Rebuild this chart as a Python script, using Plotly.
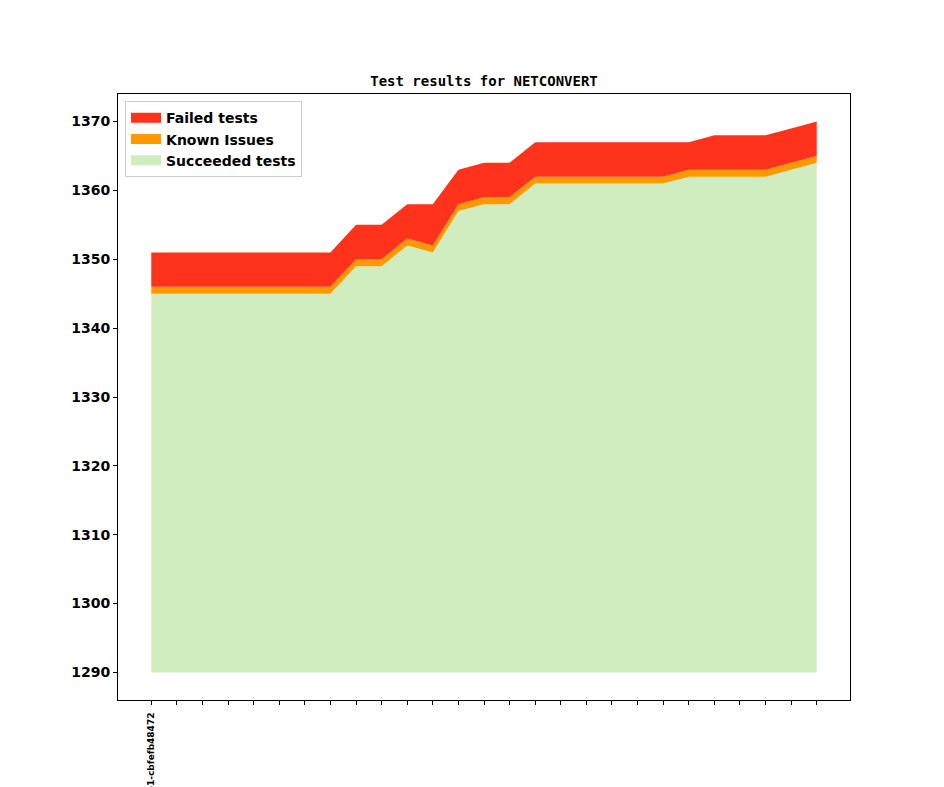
import plotly.graph_objects as go

revisions = ["v1_20_0+0651-cbfefb48472"] + [""] * 26
succeeded = [1345, 1345, 1345, 1345, 1345, 1345, 1345, 1345, 1349, 1349, 1352, 1351, 1357, 1358,
             1358, 1361, 1361, 1361, 1361, 1361, 1361, 1362, 1362, 1362, 1362, 1363, 1364]
known = [1] * 27
failed = [5, 5, 5, 5, 5, 5, 5, 5, 5, 5, 5, 6, 5, 5,
          5, 5, 5, 5, 5, 5, 5, 4, 5, 5, 5, 5, 5]
baseline = 1290
yticks = [1290, 1300, 1310, 1320, 1330, 1340, 1350, 1360, 1370]

colors = {"Failed tests": "#FF331C", "Known Issues": "#FF9900", "Succeeded tests": "#CFEDBF"}

x = list(range(len(succeeded)))
known_top = [s + k for s, k in zip(succeeded, known)]
failed_top = [kt + f for kt, f in zip(known_top, failed)]

fig = go.Figure()
fig.add_trace(go.Scatter(x=x, y=[baseline] * len(x), mode="lines", line=dict(width=0),
                         showlegend=False, hoverinfo="skip"))
for name, ys in [("Succeeded tests", succeeded), ("Known Issues", known_top), ("Failed tests", failed_top)]:
    fig.add_trace(go.Scatter(x=x, y=ys, mode="lines", line=dict(width=0), fill="tonexty",
                             fillcolor=colors[name], name=name, showlegend=False))

# legend entries
for name in ["Failed tests", "Known Issues", "Succeeded tests"]:
    fig.add_trace(go.Scatter(x=[None], y=[None], mode="lines", line=dict(width=10, color=colors[name]),
                             name=name, showlegend=True))

axis_common = dict(showgrid=False, zeroline=False, showline=True, linecolor="black", linewidth=1,
                   mirror=True, ticks="outside", ticklen=4, tickcolor="black", automargin=False)

fig.update_layout(
    width=944, height=787,
    margin=dict(l=118, r=94, t=94, b=87),
    paper_bgcolor="white", plot_bgcolor="white",
    title=dict(text="Test results for NETCONVERT", x=0.5, xanchor="center",
               y=1 - 81 / 787, yanchor="middle", yref="container", xref="paper",
               font=dict(family="DejaVu Sans Mono", size=14, color="black", weight="bold")),
    xaxis=dict(**axis_common, range=[-1.3, 27.3], tickmode="array", tickvals=x, ticktext=revisions,
               tickangle=-90, ticklabelstandoff=4,
               tickfont=dict(family="DejaVu Sans", size=9, color="black", weight="bold")),
    yaxis=dict(**axis_common, range=[1286, 1374], tickmode="array", tickvals=yticks,
               tickfont=dict(family="DejaVu Sans", size=14, color="black", weight="bold")),
    legend=dict(x=0.0096, y=0.988, xanchor="left", yanchor="top", traceorder="normal",
                bgcolor="rgba(255,255,255,0.8)", bordercolor="#cccccc", borderwidth=1,
                font=dict(family="DejaVu Sans", size=14, color="black", weight="bold")),
    showlegend=True,
)

fig.write_html("out.html", config={"displayModeBar": False},
               post_script="document.body.style.margin='0';")
